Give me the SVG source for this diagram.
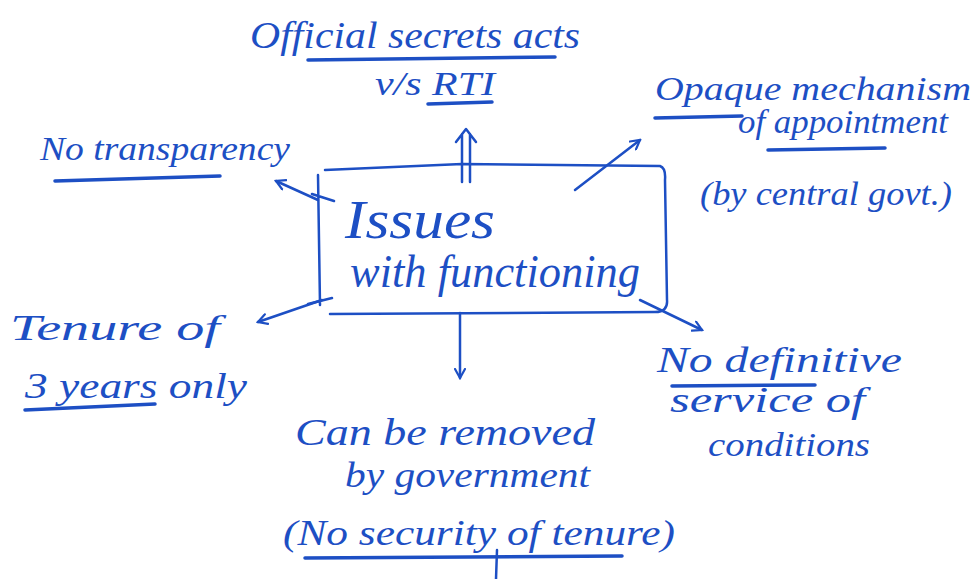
<svg xmlns="http://www.w3.org/2000/svg" width="974" height="579" viewBox="0 0 974 579">
<style>
  .t { font-family: "Liberation Serif", "DejaVu Serif", serif; font-style: italic; fill: #1d4fc4; }
  .ln { stroke: #1d4fc4; stroke-width: 2.5; fill: none; stroke-linecap: round; stroke-linejoin: round; }
  .ul { stroke: #1d4fc4; stroke-width: 3.5; fill: none; stroke-linecap: round; }
</style>
<defs>
  <marker id="ah" viewBox="0 0 12 12" refX="10" refY="6" markerWidth="12" markerHeight="12" markerUnits="userSpaceOnUse" orient="auto">
    <path d="M1,1 L10,6 L1,11" fill="none" stroke="#1d4fc4" stroke-width="2.2" stroke-linecap="round"/>
  </marker>
</defs>
<rect width="974" height="579" fill="#ffffff"/>

<g id="connectors">
  <path class="ln" d="M462,182 L462,134 M470,182 L470,134 M456,142 L466,129 L476,142"/>
  <path class="ln" d="M318,200 L276,181" marker-end="url(#ah)"/>
  <path class="ln" d="M575,190 L640,140" marker-end="url(#ah)"/>
  <path class="ln" d="M322,300 L258,322" marker-end="url(#ah)"/>
  <path class="ln" d="M460,313 L460,378" marker-end="url(#ah)"/>
  <path class="ln" d="M640,300 L702,330" marker-end="url(#ah)"/>
</g>

<g id="center">
  <path class="ln" d="M325,170 L462,164 L660,166 Q666,168 665,180 L667,300 Q668,312 655,312 L330,314"/>
  <path class="ln" d="M318,175 L320,305 M312,194 L334,201 M308,304 L332,298"/>
  <text class="t" x="345" y="238" font-size="54" textLength="150" lengthAdjust="spacingAndGlyphs">Issues</text>
  <text class="t" x="350" y="287" font-size="46" textLength="290" lengthAdjust="spacingAndGlyphs">with functioning</text>
</g>

<g id="top">
  <text class="t" x="250" y="48" font-size="38" textLength="330" lengthAdjust="spacingAndGlyphs">Official secrets acts</text>
  <text class="t" x="375" y="95" font-size="34" textLength="120" lengthAdjust="spacingAndGlyphs">v/s RTI</text>
  <path class="ul" d="M308,60 L555,57"/>
  <path class="ul" d="M428,104 L492,102"/>
</g>

<g id="no-transparency">
  <text class="t" x="40" y="160" font-size="34" textLength="250" lengthAdjust="spacingAndGlyphs">No transparency</text>
  <path class="ul" d="M55,181 L220,176"/>
</g>

<g id="opaque">
  <text class="t" x="655" y="100" font-size="34" textLength="316" lengthAdjust="spacingAndGlyphs">Opaque mechanism</text>
  <text class="t" x="738" y="133" font-size="34" textLength="210" lengthAdjust="spacingAndGlyphs">of appointment</text>
  <text class="t" x="700" y="205" font-size="34" textLength="252" lengthAdjust="spacingAndGlyphs">(by central govt.)</text>
  <path class="ul" d="M655,118 L742,116"/>
  <path class="ul" d="M768,150 L885,148"/>
</g>

<g id="tenure">
  <text class="t" x="10" y="340" font-size="36" textLength="210" lengthAdjust="spacingAndGlyphs">Tenure of</text>
  <text class="t" x="25" y="398" font-size="36" textLength="222" lengthAdjust="spacingAndGlyphs">3 years only</text>
  <path class="ul" d="M25,410 L155,404"/>
</g>

<g id="service">
  <text class="t" x="657" y="372" font-size="36" textLength="245" lengthAdjust="spacingAndGlyphs">No definitive</text>
  <text class="t" x="670" y="412" font-size="36" textLength="195" lengthAdjust="spacingAndGlyphs">service of</text>
  <text class="t" x="708" y="456" font-size="34" textLength="162" lengthAdjust="spacingAndGlyphs">conditions</text>
  <path class="ul" d="M672,386 L815,385"/>
</g>

<g id="removed">
  <text class="t" x="295" y="445" font-size="38" textLength="300" lengthAdjust="spacingAndGlyphs">Can be removed</text>
  <text class="t" x="345" y="487" font-size="36" textLength="245" lengthAdjust="spacingAndGlyphs">by government</text>
  <text class="t" x="283" y="545" font-size="36" textLength="392" lengthAdjust="spacingAndGlyphs">(No security of tenure)</text>
  <path class="ul" d="M305,558 L622,556"/>
  <path class="ln" d="M497,550 L496,579"/>
</g>
</svg>
